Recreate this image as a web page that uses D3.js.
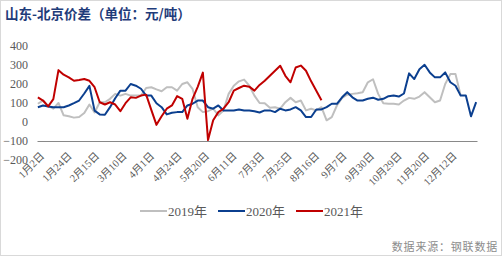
<!DOCTYPE html>
<html>
<head>
<meta charset="utf-8">
<script src="https://cdn.jsdelivr.net/npm/d3@7"></script>
<style>
  body { margin: 0; background: #fff; }
</style>
</head>
<body>
<div id="chart"></div>
<script>
// x axis labels, one every 16 trading days
const xLabels = ["1月2日", "1月24日", "2月15日", "3月10日", "4月1日", "4月24日", "5月20日", "6月11日",
    "7月3日", "7月25日", "8月16日", "9月7日", "9月30日", "10月29日", "11月20日", "12月12日"];
const dayCount = 256;   // trading days on the category axis
const sampleStep = 3;   // values below are read every 3rd trading day

const yTicks = [-200, -100, 0, 100, 200, 300, 400];

// price spread, yuan/ton
const v2019 = [96, 113, 85, 70, 100, 35, 30, 23, 26, 47, 92, 50, 104, 104, 122, 148, 139, 148, 139, 139, 139,
    179, 183, 172, 162, 183, 183, 165, 200, 209, 174, 78, 52, 57, 70, 35, 61, 148, 191, 214, 223, 191, 139, 100,
    99, 75, 78, 70, 104, 127, 104, 113, 61, 70, 61, 78, 9, 26, 87, 127, 144, 148, 151, 157, 209, 225,
    148, 99, 96, 96, 92, 113, 127, 122, 134, 157, 130, 104, 113, 200, 252, 252, 139];

const v2020 = [78, 87, 82, 78, 78, 78, 87, 99, 113, 150, 190, 60, 40, 38, 78, 125, 165, 165, 200, 191, 175,
    139, 139, 99, 78, 40, 49, 52, 52, 87, 96, 113, 113, 78, 70, 87, 61, 61, 61, 66, 61, 61, 57, 50,
    61, 61, 52, 70, 61, 66, 78, 61, 26, 26, 66, 66, 78, 96, 96, 130, 157, 130, 113, 113, 122, 128,
    117, 122, 136, 139, 134, 150, 256, 226, 278, 301, 261, 235, 235, 261, 209, 191, 139, 139, 30, 105];

const v2021 = [130, 113, 82, 120, 273, 249, 235, 217, 221, 226, 217, 183, 104, 92, 104, 92, 57, 99, 130, 127, 139,
    144, 64, -15, 30, 70, 87, 136, 122, 17, 122, 185, 260, -95, 9, 52, 70, 104, 165, 179, 191, 186, 165, 195,
    217, 243, 270, 296, 243, 209, 287, 297, 270, 214, 165, 115];

const series = [
    {name: "2019年", values: v2019, color: "#bfbfbf"},
    {name: "2020年", values: v2020, color: "#0b3f8f"},
    {name: "2021年", values: v2021, color: "#c00000"}
];

const width = 502, height = 256;
const textFont = "'Liberation Serif', 'Noto Sans CJK SC', serif";

const svg = d3.select("#chart")
    .append("svg")
    .attr("width", width)
    .attr("height", height);

// outer frame
svg.append("rect")
    .attr("x", 0.5).attr("y", 0.5)
    .attr("width", width - 1).attr("height", height - 1)
    .attr("fill", "#fff")
    .attr("stroke", "#d9d9d9");

// title
svg.append("text")
    .attr("x", 5).attr("y", 19)
    .attr("font-family", "'Noto Sans CJK SC', sans-serif")
    .attr("font-size", 13.5)
    .attr("font-weight", "bold")
    .attr("fill", "#1f3c7a")
    .text("山东-北京价差（单位：元/吨）");

// scales
const x = d3.scaleLinear().domain([0, dayCount]).range([37, 477]);
const y = d3.scaleLinear().domain([-200, 400]).range([160, 46]);

// y axis labels only
const yAxis = svg.append("g")
    .attr("transform", "translate(28,0)")
    .call(d3.axisLeft(y).tickValues(yTicks).tickSize(0).tickPadding(0));
yAxis.select(".domain").remove();
yAxis.selectAll("text")
    .attr("font-family", textFont)
    .attr("font-size", 12)
    .attr("fill", "#595959");

// category axis crossing at -100
const xAxis = svg.append("g")
    .attr("transform", "translate(0," + y(-100) + ")")
    .call(d3.axisBottom(x)
        .tickValues(xLabels.map((d, i) => i * 16 + 0.5))
        .tickFormat((d, i) => xLabels[i])
        .tickSize(0)
        .tickSizeOuter(0));
xAxis.select(".domain")
    .attr("stroke", "#898989")
    .attr("stroke-width", 1);
xAxis.selectAll("text")
    .attr("font-family", textFont)
    .attr("font-size", 10.5)
    .attr("fill", "#595959")
    .attr("text-anchor", "end")
    .attr("x", 0).attr("y", 0).attr("dy", "0.35em")
    .attr("transform", "translate(4,13) rotate(-45)");

// lines
const line = d3.line()
    .x((d, i) => x(i * sampleStep + 0.5))
    .y(d => y(d));

svg.selectAll(".series")
    .data(series)
    .enter()
    .append("path")
    .attr("class", "series")
    .attr("fill", "none")
    .attr("stroke", d => d.color)
    .attr("stroke-width", 2)
    .attr("stroke-linejoin", "round")
    .attr("d", d => line(d.values));

// legend
const legendX = [140, 218, 296];
const legend = svg.selectAll(".legend")
    .data(series)
    .enter()
    .append("g")
    .attr("class", "legend")
    .attr("transform", (d, i) => "translate(" + legendX[i] + ",211)");
legend.append("line")
    .attr("x1", 0).attr("x2", 27)
    .attr("stroke", d => d.color)
    .attr("stroke-width", 2);
legend.append("text")
    .attr("x", 28).attr("y", 4.5)
    .attr("font-family", textFont)
    .attr("font-size", 13)
    .attr("fill", "#595959")
    .text(d => d.name);

// source note
svg.append("text")
    .attr("x", 498).attr("y", 251)
    .attr("text-anchor", "end")
    .attr("font-family", "'Noto Sans CJK SC', sans-serif")
    .attr("font-size", 11)
    .attr("letter-spacing", 0.8)
    .attr("fill", "#8c8c8c")
    .text("数据来源：钢联数据");
</script>
</body>
</html>
